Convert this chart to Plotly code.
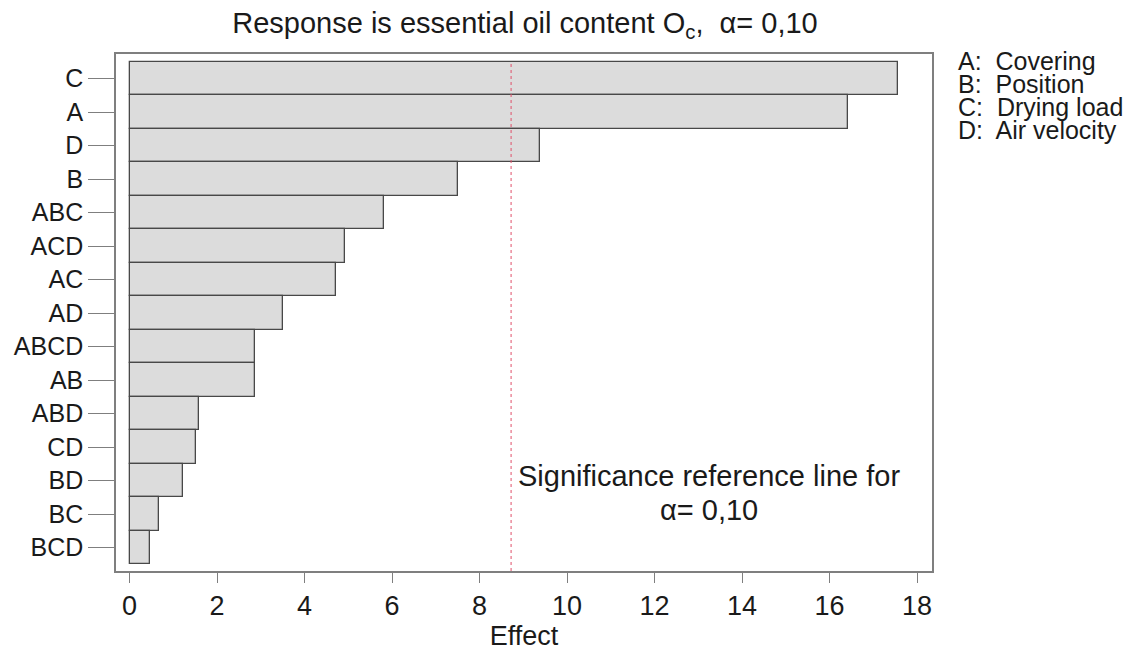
import plotly.graph_objects as go

# Pareto chart of standardized effects
terms = ["C", "A", "D", "B", "ABC", "ACD", "AC", "AD", "ABCD", "AB",
         "ABD", "CD", "BD", "BC", "BCD"]
effects = [17.57, 16.42, 9.38, 7.51, 5.81, 4.93, 4.72, 3.50, 2.87, 2.87,
           1.58, 1.51, 1.21, 0.67, 0.46]
significance_limit = 8.72
x_ticks = [0, 2, 4, 6, 8, 10, 12, 14, 16, 18]
factor_key = ["A:  Covering", "B:  Position", "C:  Drying load", "D:  Air velocity"]

FONT = "Liberation Sans, Arial, sans-serif"
TEXT = "#1a1a1a"
AXIS = "#7f7f7f"

# plot-area pixel box used to place the free text
L, R, T, B = 116, 932, 54, 580


def px(x):
    return (x - L) / (R - L)


def py(y):
    return 1 - (y - T) / (B - T)


fig = go.Figure()
fig.add_trace(go.Bar(
    x=effects,
    y=terms,
    orientation="h",
    marker=dict(color="#dcdcdc", line=dict(color="#484848", width=1.3)),
    width=1.0,
    showlegend=False,
    hoverinfo="x+y",
))

# significance reference line
fig.add_shape(type="line", xref="x", yref="paper",
              x0=significance_limit, x1=significance_limit, y0=0.0, y1=0.985,
              line=dict(color="#e0506a", width=1, dash="dot"))

n = len(terms)
fig.update_layout(
    width=1142, height=652,
    margin=dict(l=L, r=1142 - R, t=T, b=652 - B),
    paper_bgcolor="white",
    plot_bgcolor="white",
    font=dict(family=FONT, color=TEXT, size=24),
    bargap=0,
    title=dict(text="Response is essential oil content O<sub>c</sub>,  α= 0,10",
               x=525 / 1142, xanchor="center", y=1 - 23 / 652, yanchor="middle",
               font=dict(family=FONT, size=29, color=TEXT)),
    xaxis=dict(
        range=[-0.31, 18.34],
        tickvals=x_ticks,
        ticktext=[str(v) for v in x_ticks],
        ticks="outside", ticklen=10, tickcolor=AXIS, tickwidth=1.3,
        showline=True, linecolor=AXIS, linewidth=1.5, mirror=True,
        showgrid=False, zeroline=False,
        tickfont=dict(size=27),
        title=dict(text="Effect", font=dict(size=27), standoff=0),
    ),
    yaxis=dict(
        categoryorder="array", categoryarray=terms,
        range=[n - 0.5 + 0.2, -0.5 - 0.235],
        ticks="outside", ticklen=26, tickcolor=AXIS, tickwidth=1.3,
        showline=True, linecolor=AXIS, linewidth=1.5, mirror=True,
        showgrid=False, zeroline=False,
        tickfont=dict(size=25),
    ),
)

# text beside the reference line
fig.add_annotation(x=px(709), y=py(483), xref="paper", yref="paper", showarrow=False,
                   text="Significance reference line for",
                   font=dict(size=29, color=TEXT), xanchor="center", yanchor="middle")
fig.add_annotation(x=px(709), y=py(518), xref="paper", yref="paper", showarrow=False,
                   text="α= 0,10",
                   font=dict(size=29, color=TEXT), xanchor="center", yanchor="middle")

# factor key at the right
for i, line in enumerate(factor_key):
    fig.add_annotation(x=px(956), y=py(61 + i * 23.5),
                       xref="paper", yref="paper", showarrow=False,
                       text=line, xanchor="left", yanchor="middle",
                       font=dict(size=25, color=TEXT))

fig.write_html("out.html")
